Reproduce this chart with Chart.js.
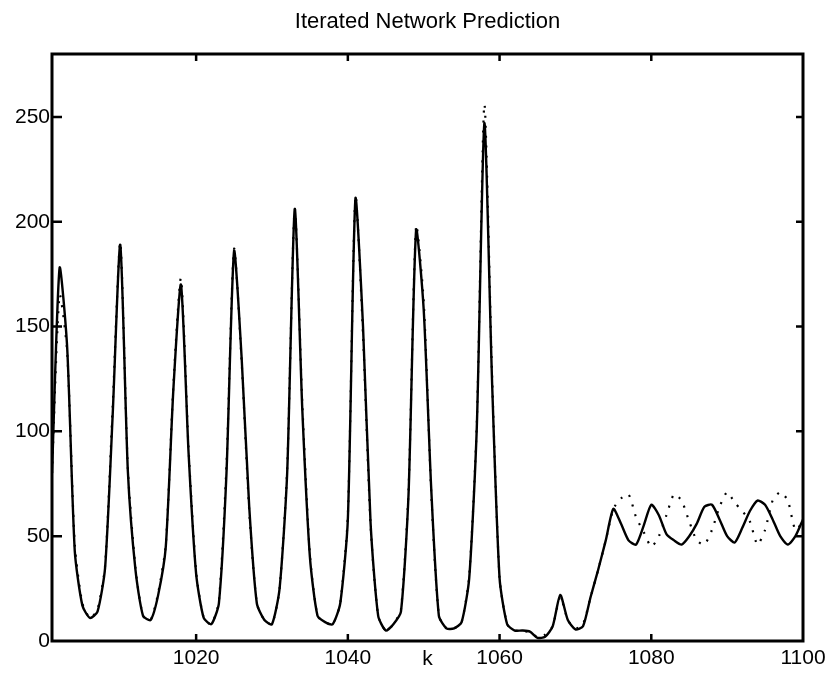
<!DOCTYPE html>
<html>
<head>
<meta charset="utf-8">
<script src="https://cdn.jsdelivr.net/npm/chart.js@4/dist/chart.umd.min.js"></script>
<style>
  html, body { margin: 0; padding: 0; background: #ffffff; }
  #wrap { width: 835px; height: 693px; }
</style>
</head>
<body>
<div id="wrap"><canvas id="c" width="835" height="693"></canvas></div>
<script>
// ---- data ----
const kValues = [
  1001,1002,1003,1004,1005,1006,1007,1008,1009,1010,
  1011,1012,1013,1014,1015,1016,1017,1018,1019,1020,
  1021,1022,1023,1024,1025,1026,1027,1028,1029,1030,
  1031,1032,1033,1034,1035,1036,1037,1038,1039,1040,
  1041,1042,1043,1044,1045,1046,1047,1048,1049,1050,
  1051,1052,1053,1054,1055,1056,1057,1058,1059,1060,
  1061,1062,1063,1064,1065,1066,1067,1068,1069,1070,
  1071,1072,1073,1074,1075,1076,1077,1078,1079,1080,
  1081,1082,1083,1084,1085,1086,1087,1088,1089,1090,
  1091,1092,1093,1094,1095,1096,1097,1098,1099,1100
];

// solid line
const solidSeries = [
   80,178,140, 43, 17, 11, 14, 35,108,189,
   81, 34, 12, 10, 22, 45,120,170, 90, 32,
   11,  8, 18, 80,186,135, 64, 18, 10,  8,
   25, 80,206,110, 40, 12,  9,  8, 18, 58,
  211,150, 56, 12,  5,  8, 14, 70,196,158,
   72, 12,  6,  6,  9, 30,102,247,125, 30,
    8,  5,  5,4.5,1.5,  2,  7, 22, 10,5.5,
    7, 21, 34, 48, 63, 56, 48, 46, 55, 65,
   60, 51, 48, 46, 50, 56, 64, 65, 58, 50,
   47, 54, 62, 67, 65, 58, 50, 46, 50, 58
];

// dotted line
const dottedSeries = [
   80,165,138, 46, 18, 11, 15, 36,112,190,
   82, 35, 12, 10, 23, 46,122,173, 92, 33,
   11,  8, 19, 84,187,133, 62, 18, 10,  8,
   25, 82,206,113, 41, 12,  9,  8, 18, 60,
  212,146, 55, 12,  5,  8, 15, 72,198,162,
   70, 12,  6,  6,  9, 31,104,256,128, 30,
    8,  5,  5,  4,  2,  3,  7, 21, 10,  6,
    8, 21, 34, 48, 63, 68, 70, 59, 52, 45,
   50, 60, 70, 67, 57, 48, 46, 53, 64, 71,
   66, 62, 57, 46, 53, 67, 71, 67, 53, 57
];

const xTickValues = [1020, 1040, 1060, 1080, 1100];
const yTickValues = [0, 50, 100, 150, 200, 250];
const titleText = 'Iterated Network Prediction';
const xAxisLabel = 'k';

// ---- chart ----
const FONT = "'Liberation Sans', Arial, Helvetica, sans-serif";

const toPoints = (ys) => kValues.map((k, i) => ({ x: k, y: ys[i] }));

const framePlugin = {
  id: 'matlabFrame',
  afterDatasetsDraw(chart) {
    const { ctx, chartArea: a, scales } = chart;
    ctx.save();
    ctx.strokeStyle = '#000';
    ctx.lineCap = 'butt';
    // inward tick marks on all four sides
    ctx.lineWidth = 2.5;
    ctx.beginPath();
    xTickValues.forEach(v => {
      const px = scales.x.getPixelForValue(v);
      if (px <= a.left + 1 || px >= a.right - 1) return;
      ctx.moveTo(px, a.bottom); ctx.lineTo(px, a.bottom - 7);
      ctx.moveTo(px, a.top);    ctx.lineTo(px, a.top + 7);
    });
    yTickValues.forEach(v => {
      const py = scales.y.getPixelForValue(v);
      if (py <= a.top + 1 || py >= a.bottom - 1) return;
      ctx.moveTo(a.left, py);  ctx.lineTo(a.left + 10, py);
      ctx.moveTo(a.right, py); ctx.lineTo(a.right - 7, py);
    });
    ctx.stroke();
    // box
    ctx.lineWidth = 3;
    ctx.strokeRect(a.left, a.top, a.right - a.left, a.bottom - a.top);
    ctx.restore();
  }
};

new Chart(document.getElementById('c').getContext('2d'), {
  type: 'line',
  data: {
    datasets: [
      {
        label: 'dotted',
        data: toPoints(dottedSeries),
        borderColor: '#000',
        borderWidth: 2.2,
        borderDash: [2, 8],
        pointRadius: 0,
        tension: 0.22,
        fill: false
      },
      {
        label: 'solid',
        data: toPoints(solidSeries),
        borderColor: '#000',
        borderWidth: 2.4,
        pointRadius: 0,
        tension: 0.22,
        fill: false
      }
    ]
  },
  options: {
    responsive: false,
    animation: false,
    devicePixelRatio: 1,
    layout: { padding: { left: 0, right: 32, top: 0, bottom: 0 } },
    plugins: {
      legend: { display: false },
      tooltip: { enabled: false },
      title: {
        display: true,
        fullSize: false,
        text: titleText,
        color: '#000',
        font: { family: FONT, size: 22, weight: 'normal', lineHeight: 1.2 },
        padding: { top: 8.5, bottom: 19.1 }
      }
    },
    scales: {
      x: {
        type: 'linear',
        min: 1001,
        max: 1100,
        afterBuildTicks: (s) => { s.ticks = xTickValues.map(v => ({ value: v })); },
        afterFit: (s) => { s.height = 52; },
        grid: { display: false, drawTicks: false },
        border: { display: false },
        ticks: {
          color: '#000',
          autoSkip: false,
          maxRotation: 0,
          padding: 5,
          font: { family: FONT, size: 21, lineHeight: 1.2 },
          callback: (v) => String(v)
        },
        title: {
          display: true,
          text: xAxisLabel,
          color: '#000',
          font: { family: FONT, size: 21, lineHeight: 1.2 },
          padding: { top: 0, bottom: 21 }
        }
      },
      y: {
        type: 'linear',
        min: 0,
        max: 280,
        afterBuildTicks: (s) => { s.ticks = yTickValues.map(v => ({ value: v })); },
        afterFit: (s) => { s.width = 52; },
        grid: { display: false, drawTicks: false },
        border: { display: false },
        ticks: {
          color: '#000',
          autoSkip: false,
          padding: 2,
          font: { family: FONT, size: 21, lineHeight: 1.2 },
          callback: (v) => String(v)
        }
      }
    }
  },
  plugins: [framePlugin]
});
</script>
</body>
</html>
